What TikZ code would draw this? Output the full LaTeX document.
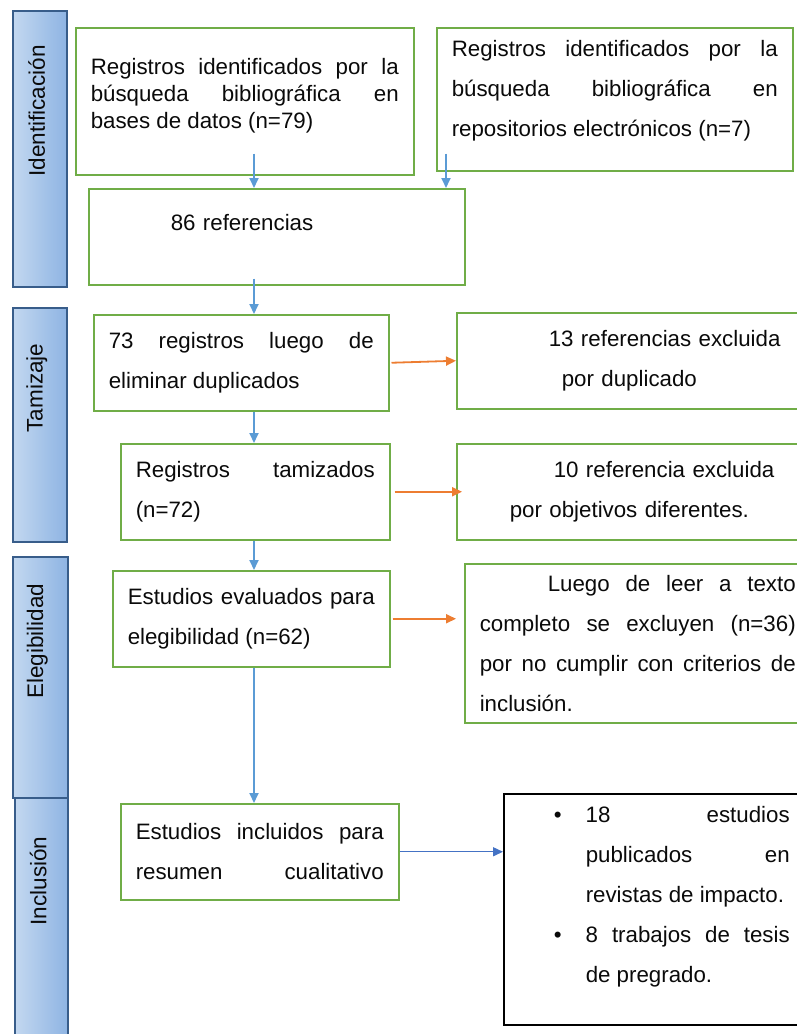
\documentclass[tikz,border=0pt]{standalone}
\usepackage{fontspec}
\setmainfont{Liberation Sans}
\definecolor{BoxGreen}{HTML}{70AD47}
\definecolor{FlowBlue}{HTML}{5B9BD5}
\definecolor{FlowNavy}{HTML}{4472C4}
\definecolor{FlowOrange}{HTML}{ED7D31}
\definecolor{PhaseLight}{HTML}{C3D8F0}
\definecolor{PhaseDark}{HTML}{8EB4E3}
\definecolor{PhaseEdge}{HTML}{385D8A}
\definecolor{TextDark}{HTML}{0A0A0A}
\usetikzlibrary{positioning, arrows.meta, calc}
\setlength{\parindent}{0pt}
\hyphenpenalty=10000
\tolerance=10000
\hbadness=10000

\begin{document}
\begin{tikzpicture}[
  x=1pt, y=-1pt,
  box/.style={draw=BoxGreen, line width=1.5pt, anchor=north west, inner xsep=15pt, inner ysep=4pt,
    align=justify, text=TextDark, font=\fontsize{22.3}{40}\selectfont},
  tight/.style={font=\fontsize{22.3}{27}\selectfont},
  phase/.style={draw=PhaseEdge, line width=1.5pt, left color=PhaseLight, right color=PhaseDark,
    anchor=north west, inner sep=0pt},
  phaselbl/.style={rotate=90, text=TextDark, font=\fontsize{22.5}{24}\selectfont},
  flow/.style={draw=FlowBlue, line width=1.8pt, -{Triangle[length=10pt, width=9pt]}},
  excl/.style={flow, draw=FlowOrange},
]
  \useasboundingbox (0,0) rectangle (797,1034);
  % Phase bars
  \node[phase, minimum width=54, minimum height=276] (idf) at (12,10) {};
  \node[phase, minimum width=54, minimum height=234] (tam) at (12,307) {};
  \node[phase, minimum width=55, minimum height=241] (ele) at (12,556) {};
  \node[phase, minimum width=53, minimum height=250] (inc) at (14,797) {};
  \node[phaselbl] (idfl) at ($(idf.north)+(-3,101)$) {Identificación};
  \node[phaselbl] (taml) at ($(tam.north)+(-3,81)$) {Tamizaje};
  \node[phaselbl] (elel) at ($(ele.north)+(-3,85)$) {Elegibilidad};
  \node[phaselbl] (incl) at ($(inc.north)+(-3,84)$) {Inclusión};
  % Identification
  \node[box, tight, minimum width=338, minimum height=147, text width=308] (bib) at (75,27)
    {Registros identificados por la\linebreak búsqueda bibliográfica en\linebreak bases de datos (n=79)\par\vspace{11pt}};
  \node[box, minimum width=356, minimum height=143, text width=326] (repo) at (436,27)
    {Registros identificados por la\linebreak búsqueda bibliográfica en\linebreak repositorios electrónicos (n=7)\par\vspace{18pt}};
  \node[box, align=left, minimum width=376, minimum height=96, text width=346] (refs) at (88,188)
    {\hspace*{67pt}86 referencias\par\vspace{28pt}};
  % Screening
  \node[box, minimum width=295, minimum height=96, text width=265] (dedup) at (93,314)
    {73 registros luego de\linebreak eliminar duplicados};
  \node[box, align=left, minimum width=356, minimum height=96, text width=326] (dup) at (456,312)
    {\hspace*{77pt}13 referencias excluida\\\hspace*{90pt}por duplicado};
  \node[box, minimum width=269, minimum height=96, text width=239] (screen) at (120,443)
    {Registros tamizados\linebreak (n=72)};
  \node[box, align=left, minimum width=356, minimum height=96, text width=326] (obj) at (456,443)
    {\hspace*{82pt}10 referencia excluida\\\hspace*{38pt}por objetivos diferentes.};
  % Eligibility
  \node[box, minimum width=277, minimum height=96, text width=247] (elig) at (112,570)
    {Estudios evaluados para\linebreak elegibilidad (n=62)};
  \node[box, minimum width=346, minimum height=159, text width=316] (crit) at (464,563)
    {\hspace*{68pt}Luego de leer a texto\linebreak completo se excluyen (n=36)\linebreak
     por no cumplir con criterios de\linebreak inclusión.};
  % Inclusion
  \node[box, minimum width=278, minimum height=96, text width=248] (final) at (120,803)
    {Estudios incluidos para\linebreak resumen\hfill cualitativo};
  \node[box, draw=black, inner xsep=10pt, minimum width=296, minimum height=231, text width=276] (incbox) at (503,793)
    {\leftskip=40pt
     \hangindent=32pt\hangafter=1\makebox[32pt][l]{\textbullet}18 estudios\linebreak publicados en\linebreak revistas de impacto.\par
     \hangindent=32pt\hangafter=1\makebox[32pt][l]{\textbullet}8 trabajos de tesis\linebreak de pregrado.\par\vspace{26pt}};
  % Main flow
  \coordinate (axis) at (254,0);
  \coordinate (r0) at ($(repo.south west)+(10,-18)$);
  \draw[flow] ($(bib.south -| axis)+(0,-22)$) -- (refs.north -| axis);
  \draw[flow] (r0) -- (r0 |- refs.north);
  \draw[flow] ($(refs.south -| axis)+(0,-7)$) -- (dedup.north -| axis);
  \draw[flow] (dedup.south -| axis) -- (screen.north -| axis);
  \draw[flow] (screen.south -| axis) -- (elig.north -| axis);
  \draw[flow] (elig.south -| axis) -- (final.north -| axis);
  % Exclusions
  \draw[excl] ([xshift=2pt]dedup.east) -- (dup.west);
  \draw[excl] ([xshift=4pt]screen.east) -- ([xshift=6pt]obj.west);
  \draw[excl] ([xshift=2pt]elig.east) -- ($(elig.east -| crit.west)+(-8,0)$);
  \draw[flow, draw=FlowNavy, line width=1.4pt] (final.east) -- (final.east -| incbox.west);
\end{tikzpicture}
\end{document}
